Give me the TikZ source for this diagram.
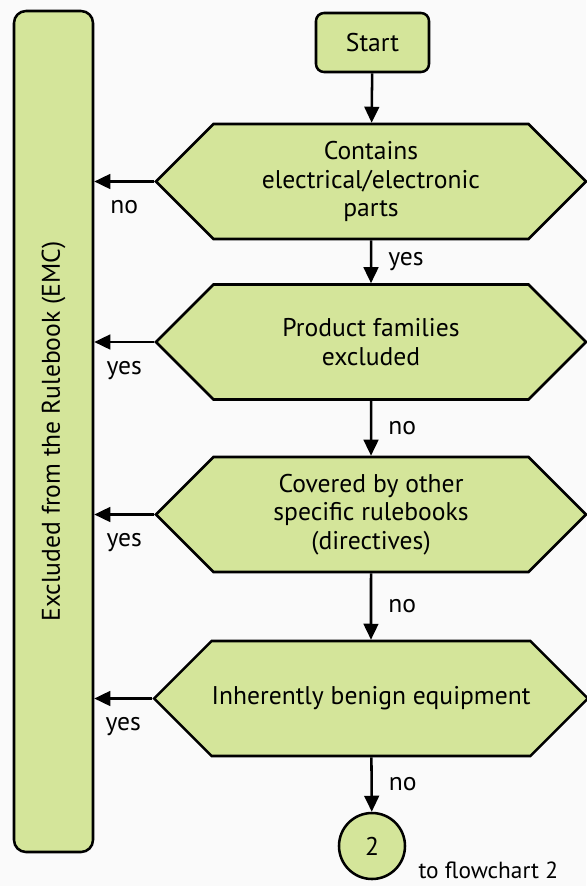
\documentclass[tikz,border=0pt]{standalone}
\usepackage{fontspec}
\setmainfont{PT Sans}
\usepackage{tikz}
\usetikzlibrary{positioning, shapes.symbols, arrows.meta}
\tikzstyle{chart} = [x = 0.75pt, y = -0.75pt, every node/.style={font=\fontsize{19.2}{21.4}\selectfont}]
\definecolor{boxColor}{RGB}{212,229,154}
\definecolor{pageColor}{RGB}{250,250,250}
\tikzstyle{boxStyle} = [draw=black, fill=boxColor, line width=1.9pt]
\tikzstyle{terminalStyle} = [boxStyle, rounded corners=6pt, minimum width=84.75pt, minimum height=44.25pt]
\tikzstyle{decisionStyle} = [boxStyle, shape=signal, signal to=west and east, signal pointer angle=90, minimum width=322.5pt, minimum height=86.25pt, align=center, inner sep=0pt]
\tikzstyle{excludedStyle} = [boxStyle, rounded corners=9pt, rotate=90, minimum width=630.75pt, minimum height=59.25pt]
\tikzstyle{connectorStyle} = [boxStyle, circle, minimum size=49.5pt, inner sep=0pt]
\tikzstyle{flowArrow} = [-{Triangle[length=12pt, width=11pt]}, line width=1.9pt]
\tikzstyle{answerText} = [inner sep=0pt]
\newcommand{\exitArrow}[2]{\draw [flowArrow] (#1.west) -- (#1.west -| excluded.south) node [answerText, midway, anchor=base, yshift=-24pt] {#2};}
\newcommand{\downArrow}[3]{\draw [flowArrow] (#1) -- (#2) node [answerText, midway, right=12pt] {#3};}

\begin{document}
\begin{tikzpicture}[chart]
  \fill [pageColor] (0,0) rectangle (586,886);
  \useasboundingbox (0,0) rectangle (586,886);
  \node [excludedStyle] (excluded) at (53.5, 431.5) {Excluded from the Rulebook (EMC)};
  \node [terminalStyle] (start) at (372.5, 42.5) {Start};
  \node [decisionStyle] (contains) at (371, 181.5) {Contains\\electrical/electronic\\parts};
  \node [decisionStyle] (families) at (371, 342) {Product families\\excluded};
  \node [decisionStyle] (covered) at (371, 514.5) {Covered by other\\specific rulebooks\\(directives)};
  \node [decisionStyle] (benign) at (371, 698.5) {Inherently benign equipment};
  \node [connectorStyle] (two) at (372, 846) {2};
  \node [answerText, anchor=base west, font=\fontsize{17.5}{21}\selectfont] (toChart) at ([xshift=9pt, yshift=-24pt] two.east) {to flowchart 2};
  % main line
  \draw [flowArrow] (start) -- (contains);
  \downArrow{contains}{families}{yes}
  \downArrow{families}{covered}{no}
  \downArrow{covered}{benign}{no}
  \downArrow{benign}{two}{no}
  % exits to the left
  \exitArrow{contains}{no}
  \exitArrow{families}{yes}
  \exitArrow{covered}{yes}
  \exitArrow{benign}{yes}
\end{tikzpicture}
\end{document}
